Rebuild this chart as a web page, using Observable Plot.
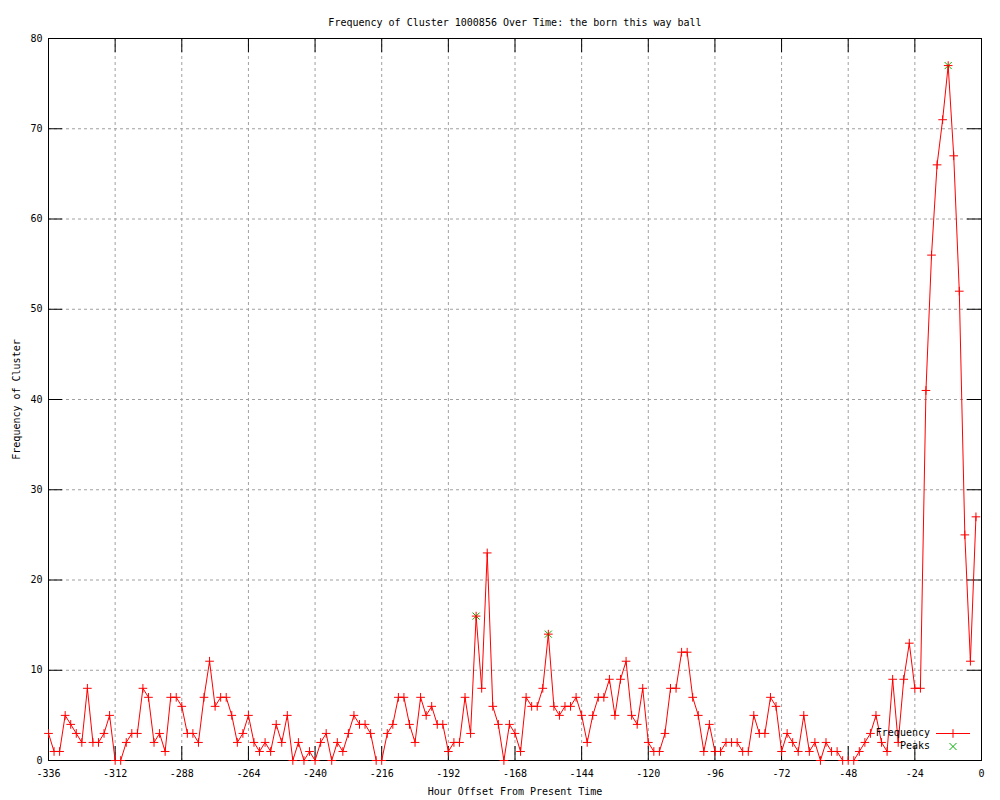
<!DOCTYPE html>
<html>
<head>
<meta charset="utf-8">
<script src="https://cdn.jsdelivr.net/npm/d3@7"></script>
<script src="https://cdn.jsdelivr.net/npm/@observablehq/plot@0.6"></script>
<style>
  html, body { margin: 0; padding: 0; background: #fff; }
  #chart svg { display: block; }
</style>
</head>
<body>
<div id="chart"></div>
<script>
const titleText = "Frequency of Cluster 1000856 Over Time: the born this way ball";
const xLabel = "Hour Offset From Present Time";
const yLabel = "Frequency of Cluster";

const hours = [
  -336,-334,-332,-330,-328,-326,-324,-322,-320,-318,
  -316,-314,-312,-310,-308,-306,-304,-302,-300,-298,
  -296,-294,-292,-290,-288,-286,-284,-282,-280,-278,
  -276,-274,-272,-270,-268,-266,-264,-262,-260,-258,
  -256,-254,-252,-250,-248,-246,-244,-242,-240,-238,
  -236,-234,-232,-230,-228,-226,-224,-222,-220,-218,
  -216,-214,-212,-210,-208,-206,-204,-202,-200,-198,
  -196,-194,-192,-190,-188,-186,-184,-182,-180,-178,
  -176,-174,-172,-170,-168,-166,-164,-162,-160,-158,
  -156,-154,-152,-150,-148,-146,-144,-142,-140,-138,
  -136,-134,-132,-130,-128,-126,-124,-122,-120,-118,
  -116,-114,-112,-110,-108,-106,-104,-102,-100,-98,
  -96,-94,-92,-90,-88,-86,-84,-82,-80,-78,
  -76,-74,-72,-70,-68,-66,-64,-62,-60,-58,
  -56,-54,-52,-50,-48,-46,-44,-42,-40,-38,
  -36,-34,-32,-30,-28,-26,-24,-22,-20,-18,
  -16,-14,-12,-10,-8,-6,-4,-2
];

const frequency = [
  3,1,1,5,4,3,2,8,2,2,
  3,5,0,0,2,3,3,8,7,2,
  3,1,7,7,6,3,3,2,7,11,
  6,7,7,5,2,3,5,2,1,2,
  1,4,2,5,0,2,0,1,0,2,
  3,0,2,1,3,5,4,4,3,0,
  0,3,4,7,7,4,2,7,5,6,
  4,4,1,2,2,7,3,16,8,23,
  6,4,0,4,3,1,7,6,6,8,
  14,6,5,6,6,7,5,2,5,7,
  7,9,5,9,11,5,4,8,2,1,
  1,3,8,8,12,12,7,5,1,4,
  1,1,2,2,2,1,1,5,3,3,
  7,6,1,3,2,1,5,1,2,0,
  2,1,1,0,0,0,1,2,3,5,
  2,1,9,2,9,13,8,8,41,56,
  66,71,77,67,52,25,11,27
];

const peakHours = [-182, -156, -12];
const peakValues = [16, 14, 77];

const xTicks = [-336,-312,-288,-264,-240,-216,-192,-168,-144,-120,-96,-72,-48,-24,0];
const yTicks = [0,10,20,30,40,50,60,70,80];

const legendLabels = ["Frequency", "Peaks"];

const freqData = hours.map((h, i) => ({hour: h, value: frequency[i]}));
const peakData = peakHours.map((h, i) => ({hour: h, value: peakValues[i]}));

const W = 1000, H = 800, mT = 38, mL = 48, mR = 19, mB = 40;
const innerW = W - mL - mR, innerH = H - mT - mB;
const tickLen = 14;
const symR = 2.9, peakR = 3.3;
const red = "#ff0000", green = "#00b000", gridColor = "#a0a0a0";

const chart = Plot.plot({
  width: W, height: H,
  marginTop: mT, marginLeft: mL, marginRight: mR, marginBottom: mB,
  style: {fontFamily: "'DejaVu Sans Mono', monospace", fontSize: "10px", background: "white", color: "black"},
  x: {domain: [-336, 0]},
  y: {domain: [0, 80]},
  marks: [
    Plot.gridX(xTicks, {stroke: gridColor, strokeOpacity: 1, strokeDasharray: "3,3"}),
    Plot.gridY(yTicks, {stroke: gridColor, strokeOpacity: 1, strokeDasharray: "3,3"}),
    Plot.tickX(xTicks, {x: d => d, stroke: "black", insetTop: innerH - tickLen}),
    Plot.tickX(xTicks, {x: d => d, stroke: "black", insetBottom: innerH - tickLen}),
    Plot.tickY(yTicks, {y: d => d, stroke: "black", insetRight: innerW - tickLen}),
    Plot.tickY(yTicks, {y: d => d, stroke: "black", insetLeft: innerW - tickLen}),
    Plot.axisX({ticks: xTicks, tickSize: 0, tickPadding: 9, tickFormat: d => String(d),
      label: xLabel, labelAnchor: "center", labelOffset: 34, labelArrow: "none"}),
    Plot.axisY({ticks: yTicks, tickSize: 0, tickPadding: 6, tickFormat: d => String(d),
      label: yLabel, labelAnchor: "center", labelOffset: 36, labelArrow: "none"}),
    Plot.frame({stroke: "black"}),
    Plot.dot(peakData, {x: "hour", y: "value", symbol: "times", r: peakR, stroke: green, strokeWidth: 1}),
    Plot.line(freqData, {x: "hour", y: "value", stroke: red, strokeWidth: 1}),
    Plot.dot(freqData, {x: "hour", y: "value", symbol: "plus", r: symR, stroke: red, strokeWidth: 1}),
    Plot.text([titleText], {frameAnchor: "top", dy: -20, fill: "black"})
  ]
});

// Legend (bottom-right, inside the frame, gnuplot style)
const svg = d3.select(chart);
const lg = svg.append("g").attr("font-family", "'DejaVu Sans Mono', monospace").attr("font-size", 10);
const lx = W - mR - 51, ly0 = H - mB - 27, ldy = 13;
legendLabels.forEach((lab, i) => {
  lg.append("text").attr("x", lx).attr("y", ly0 + i * ldy).attr("dy", "0.32em")
    .attr("text-anchor", "end").attr("fill", "black").text(lab);
});
lg.append("line").attr("x1", lx + 6).attr("x2", lx + 40).attr("y1", ly0 + 0.5).attr("y2", ly0 + 0.5)
  .attr("stroke", red).attr("stroke-width", 1);
const symPlus = d3.symbol(d3.symbolPlus, symR * symR * Math.PI);
const symTimes = d3.symbol(d3.symbolTimes, peakR * peakR * Math.PI);
lg.append("path").attr("d", symPlus()).attr("transform", `translate(${lx + 23},${ly0 + 0.5})`)
  .attr("fill", "none").attr("stroke", red);
lg.append("path").attr("d", symTimes()).attr("transform", `translate(${lx + 23},${ly0 + ldy + 0.5})`)
  .attr("fill", "none").attr("stroke", green);

document.getElementById("chart").appendChild(chart);
</script>
</body>
</html>
